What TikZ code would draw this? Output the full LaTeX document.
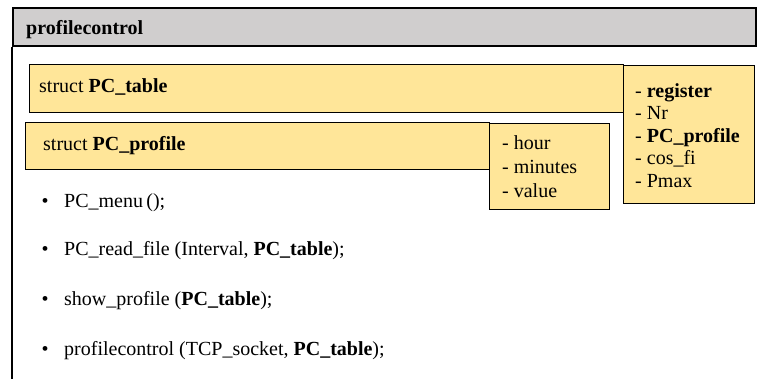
\documentclass[tikz,border=0pt]{standalone}
\usepackage{fontspec}
\setmainfont{Liberation Serif}
\definecolor{boxyellow}{HTML}{FFE699}
\definecolor{hdrgray}{HTML}{D0CECE}
\begin{document}
\begin{tikzpicture}[x=1pt,y=-1pt,
  txt/.style={inner sep=0pt,anchor=base west,font=\fontsize{20}{22.5}\selectfont},
  ybox/.style={draw=black,fill=boxyellow,line width=1.3pt,inner sep=0pt,anchor=north west},
  bul/.style={inner sep=0pt,anchor=base,font=\fontsize{20}{22.5}\selectfont}]
\useasboundingbox (0,0) rectangle (759,378);
% outer frame
\node[draw=black,fill=hdrgray,line width=1.8pt,inner sep=0pt,anchor=north west,
      minimum width=743pt,minimum height=38pt] (hdr) at (12,7) {};
\coordinate (lbot) at (12,380);
\draw[line width=1.8pt] (hdr.south west) -- (lbot);
\node[txt,font=\fontsize{20}{22.5}\selectfont\bfseries] (title) at (26,34) {profilecontrol};
% PC_table
\node[ybox,minimum width=594pt,minimum height=48pt] (tbl) at (29,64) {};
\node[ybox,minimum width=131pt,minimum height=138pt] (tblf) at (623,65) {};
\node[txt] (tbltxt) at (39,92) {struct \textbf{PC\_table}};
\node[txt] (r1) at (635,97) {- \textbf{register}};
\node[txt] (r2) at (635,119.5) {- Nr};
\node[txt] (r3) at (635,142) {- \textbf{PC\_profile}};
\node[txt] (r4) at (635,164.5) {- cos\_fi};
\node[txt] (r5) at (635,187) {- Pmax};
% PC_profile
\node[ybox,minimum width=464pt,minimum height=47pt] (prf) at (25,122) {};
\node[ybox,minimum width=120pt,minimum height=86pt] (prff) at (489,123) {};
\node[txt] (prftxt) at (43,150) {struct \textbf{PC\_profile}};
\node[txt] (h1) at (502,149) {- hour};
\node[txt] (h2) at (502,173) {- minutes};
\node[txt] (h3) at (502,197) {- value};
% functions
\node[bul] (b1) at (45,207) {\textbullet};
\node[txt] (f1) at (64,207) {PC\_menu\,();};
\node[bul] (b2) at (45,255) {\textbullet};
\node[txt] (f2) at (64,255) {PC\_read\_file (Interval, \textbf{PC\_table});};
\node[bul] (b3) at (45,305) {\textbullet};
\node[txt] (f3) at (64,305) {show\_profile (\textbf{PC\_table});};
\node[bul] (b4) at (45,355) {\textbullet};
\node[txt] (f4) at (64,355) {profilecontrol (TCP\_socket, \textbf{PC\_table});};
\end{tikzpicture}
\end{document}
